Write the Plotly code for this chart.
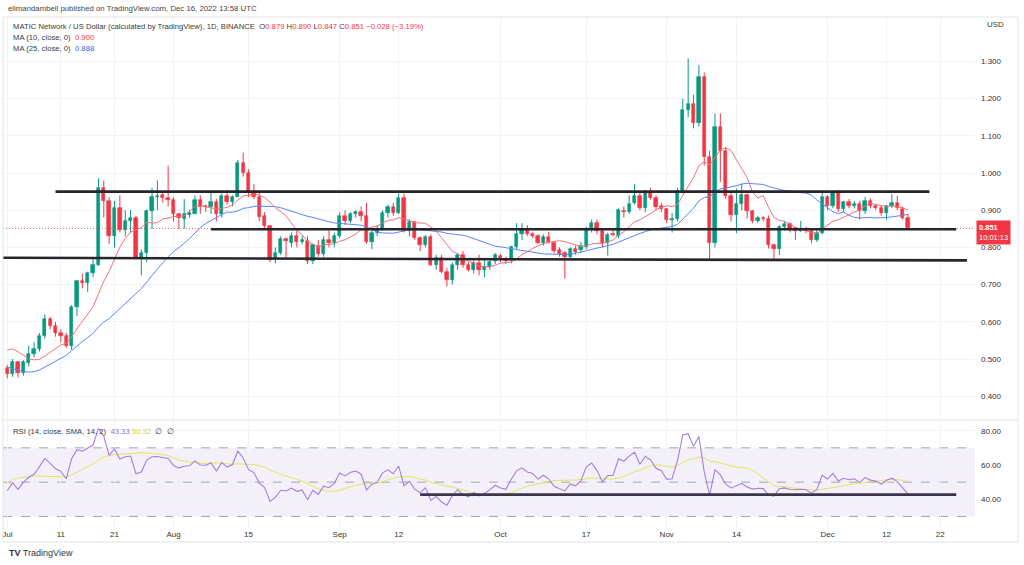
import pandas as pd
import numpy as np
import plotly.graph_objects as go

# ---------------- data ----------------
dates = pd.date_range("2022-07-01", "2022-12-16", freq="D")

opens = [0.477,0.461,0.491,0.463,0.490,0.513,0.526,0.562,0.607,0.590,
         0.571,0.562,0.535,0.641,0.709,0.703,0.730,0.753,0.959,0.926,
         0.832,0.906,0.848,0.872,0.879,0.771,0.786,0.899,0.935,0.940,
         0.934,0.927,0.891,0.877,0.888,0.891,0.927,0.911,0.908,0.922,
         0.890,0.939,0.921,0.936,1.028,1.001,0.951,0.936,0.884,0.858,
         0.769,0.786,0.822,0.811,0.832,0.814,0.818,0.764,0.804,0.782,
         0.820,0.812,0.832,0.884,0.871,0.890,0.896,0.884,0.815,0.840,
         0.848,0.893,0.908,0.893,0.932,0.845,0.867,0.826,0.806,0.829,
         0.753,0.771,0.735,0.712,0.753,0.780,0.753,0.739,0.757,0.739,
         0.748,0.764,0.777,0.768,0.766,0.800,0.836,0.850,0.836,0.831,
         0.813,0.827,0.813,0.793,0.784,0.775,0.795,0.793,0.800,0.850,
         0.865,0.845,0.811,0.836,0.831,0.898,0.896,0.920,0.938,0.905,
         0.948,0.934,0.910,0.902,0.874,0.876,0.952,1.169,1.185,1.135,
         1.257,1.044,0.813,1.123,1.060,0.939,0.887,0.917,0.940,0.897,
         0.872,0.879,0.877,0.806,0.795,0.855,0.862,0.851,0.845,0.849,
         0.845,0.820,0.840,0.935,0.910,0.950,0.902,0.921,0.912,0.918,
         0.898,0.925,0.912,0.907,0.893,0.910,0.920,0.904,0.879]
highs = [0.484,0.500,0.495,0.497,0.535,0.545,0.570,0.620,0.613,0.600,
         0.580,0.570,0.645,0.712,0.730,0.735,0.770,0.985,0.980,0.935,
         0.925,0.940,0.900,0.900,0.885,0.795,0.902,0.960,0.980,0.950,
         1.020,0.935,0.892,0.930,0.900,0.940,0.940,0.915,0.950,0.930,
         0.945,0.955,0.940,1.035,1.055,1.010,0.970,0.950,0.895,0.860,
         0.800,0.830,0.826,0.840,0.845,0.830,0.830,0.810,0.820,0.830,
         0.845,0.840,0.895,0.900,0.895,0.900,0.910,0.920,0.850,0.860,
         0.900,0.915,0.920,0.945,0.945,0.875,0.870,0.830,0.833,0.835,
         0.780,0.780,0.745,0.760,0.785,0.790,0.760,0.765,0.780,0.770,
         0.770,0.785,0.782,0.775,0.805,0.865,0.865,0.860,0.840,0.835,
         0.835,0.842,0.815,0.800,0.790,0.800,0.805,0.815,0.855,0.875,
         0.875,0.850,0.840,0.850,0.905,0.910,0.940,0.970,0.950,0.955,
         0.960,0.940,0.920,0.905,0.893,0.960,1.200,1.308,1.210,1.290,
         1.270,1.060,1.160,1.160,1.070,0.950,0.958,0.972,0.945,0.900,
         0.885,0.885,0.886,0.810,0.860,0.870,0.867,0.855,0.871,0.855,
         0.850,0.851,0.950,0.940,0.952,0.955,0.925,0.930,0.925,0.925,
         0.935,0.932,0.915,0.912,0.913,0.943,0.938,0.910,0.890]
lows = [0.448,0.452,0.450,0.455,0.480,0.505,0.520,0.555,0.580,0.560,
        0.545,0.530,0.525,0.615,0.690,0.680,0.720,0.750,0.880,0.810,
        0.800,0.840,0.830,0.840,0.768,0.725,0.760,0.850,0.900,0.920,
        0.910,0.870,0.850,0.850,0.880,0.890,0.890,0.895,0.890,0.870,
        0.880,0.915,0.910,0.935,0.990,0.935,0.930,0.870,0.850,0.760,
        0.757,0.780,0.770,0.800,0.800,0.808,0.755,0.755,0.775,0.775,
        0.800,0.800,0.825,0.860,0.865,0.880,0.870,0.810,0.795,0.830,
        0.845,0.880,0.885,0.890,0.840,0.830,0.820,0.790,0.800,0.750,
        0.740,0.730,0.695,0.700,0.740,0.745,0.735,0.730,0.725,0.720,
        0.740,0.755,0.760,0.755,0.757,0.795,0.820,0.830,0.825,0.810,
        0.805,0.810,0.785,0.775,0.717,0.770,0.780,0.785,0.795,0.840,
        0.835,0.800,0.778,0.830,0.825,0.880,0.890,0.915,0.900,0.895,
        0.928,0.900,0.895,0.865,0.840,0.870,0.945,1.150,1.120,1.125,
        1.020,0.766,0.800,0.976,0.930,0.870,0.838,0.900,0.878,0.865,
        0.865,0.870,0.797,0.766,0.780,0.845,0.840,0.820,0.842,0.838,
        0.811,0.815,0.835,0.900,0.905,0.895,0.895,0.905,0.905,0.875,
        0.890,0.905,0.900,0.885,0.874,0.905,0.900,0.875,0.847]
closes = [0.461,0.491,0.463,0.491,0.513,0.526,0.562,0.607,0.590,0.571,
          0.562,0.535,0.641,0.709,0.703,0.730,0.753,0.959,0.926,0.832,
          0.906,0.848,0.872,0.879,0.771,0.786,0.899,0.935,0.938,0.932,
          0.927,0.891,0.878,0.890,0.893,0.927,0.909,0.908,0.922,0.890,
          0.939,0.921,0.936,1.028,1.001,0.950,0.936,0.883,0.858,0.766,
          0.786,0.822,0.818,0.832,0.814,0.820,0.764,0.806,0.782,0.820,
          0.812,0.832,0.884,0.871,0.890,0.896,0.884,0.815,0.840,0.848,
          0.893,0.908,0.893,0.932,0.845,0.867,0.826,0.806,0.829,0.753,
          0.771,0.735,0.712,0.753,0.780,0.753,0.739,0.757,0.739,0.748,
          0.762,0.780,0.768,0.763,0.800,0.836,0.850,0.836,0.831,0.813,
          0.827,0.815,0.791,0.782,0.775,0.795,0.789,0.804,0.850,0.865,
          0.845,0.811,0.833,0.833,0.901,0.894,0.918,0.938,0.905,0.945,
          0.934,0.909,0.902,0.874,0.876,0.952,1.169,1.185,1.135,1.257,
          1.044,0.813,1.123,1.060,0.939,0.887,0.917,0.940,0.897,0.872,
          0.880,0.877,0.806,0.795,0.855,0.862,0.847,0.845,0.849,0.845,
          0.820,0.840,0.935,0.910,0.950,0.902,0.921,0.912,0.918,0.898,
          0.925,0.912,0.907,0.893,0.910,0.920,0.906,0.879,0.851]

# closes of the 30 days before the visible window (indicator warm-up only)
warmup_closes = [0.640,0.650,0.620,0.630,0.625,0.610,0.600,0.585,0.570,0.540,
                 0.500,0.450,0.410,0.400,0.390,0.340,0.345,0.320,0.380,0.420,
                 0.470,0.460,0.540,0.590,0.600,0.560,0.545,0.515,0.490,0.480]

# hand-drawn levels (start, end, price at start, price at end)
price_levels = [("2022-07-10", "2022-12-20", 0.950, 0.950),
                ("2022-08-08", "2022-12-25", 0.849, 0.849),
                ("2022-06-30", "2022-12-27", 0.772, 0.765)]
rsi_level = ("2022-09-16", "2022-12-25", 42.7)

price_ticks = [0.4, 0.5, 0.6, 0.7, 0.8, 0.9, 1.0, 1.1, 1.2, 1.3]
rsi_ticks = [40, 60, 80]
x_tick_dates = ["2022-07-01", "2022-07-11", "2022-07-21", "2022-08-01", "2022-08-15",
                "2022-09-01", "2022-09-12", "2022-10-01", "2022-10-17", "2022-11-01",
                "2022-11-14", "2022-12-01", "2022-12-12", "2022-12-22"]
x_tick_text = ["Jul", "11", "21", "Aug", "15", "Sep", "12", "Oct", "17", "Nov",
               "14", "Dec", "12", "22"]
rsi_legend_values = ("43.33", "50.32")

# ---------------- indicators ----------------
all_close = pd.Series(warmup_closes + closes, dtype=float)
n_w = len(warmup_closes)
ma10 = all_close.rolling(10).mean().iloc[n_w:].to_numpy()
ma25 = all_close.rolling(25).mean().iloc[n_w:].to_numpy()
delta = all_close.diff()
gain = delta.clip(lower=0)
loss = -delta.clip(upper=0)
avg_g = gain.ewm(alpha=1/14, adjust=False).mean()
avg_l = loss.ewm(alpha=1/14, adjust=False).mean()
rsi_all = 100 - 100 / (1 + avg_g / avg_l)
rsi_sma_all = rsi_all.rolling(14).mean()
rsi = rsi_all.iloc[n_w:].to_numpy()
rsi_sma = rsi_sma_all.iloc[n_w:].to_numpy()

# ---------------- geometry ----------------
W, H = 1024, 565
GREEN, RED = "#089981", "#f23645"
FONT = "Liberation Sans"
day = pd.Timedelta(days=1)
x_left = dates[0] - 0.8 * day
x_right = dates[0] + 180.5 * day

o = np.array(opens); c = np.array(closes); h = np.array(highs); l = np.array(lows)
up = c >= o
dn = ~up

fig = go.Figure()

def wick_xy(mask):
    xs, ys = [], []
    for d, lo, hi in zip(dates[mask], l[mask], h[mask]):
        xs += [d, d, None]
        ys += [lo, hi, None]
    return xs, ys

for mask, col in ((up, GREEN), (dn, RED)):
    wx, wy = wick_xy(mask)
    fig.add_trace(go.Scatter(x=wx, y=wy, mode="lines", line=dict(color=col, width=1),
                             xaxis="x", yaxis="y", hoverinfo="skip", showlegend=False))
    fig.add_trace(go.Bar(x=dates[mask], y=np.abs(c[mask] - o[mask]), base=np.minimum(o[mask], c[mask]),
                         width=0.62 * 86400000, marker=dict(color=col, line=dict(color=col, width=0.6)),
                         xaxis="x", yaxis="y", hoverinfo="skip", showlegend=False))

fig.add_trace(go.Scatter(x=dates, y=ma25, mode="lines", line=dict(color="#5b84f7", width=1),
                         xaxis="x", yaxis="y", hoverinfo="skip", showlegend=False))
fig.add_trace(go.Scatter(x=dates, y=ma10, mode="lines", line=dict(color="#f2707a", width=1),
                         xaxis="x", yaxis="y", hoverinfo="skip", showlegend=False))

fig.add_trace(go.Scatter(x=dates, y=rsi_sma, mode="lines", line=dict(color="#dfe85a", width=1),
                         xaxis="x2", yaxis="y2", hoverinfo="skip", showlegend=False))
fig.add_trace(go.Scatter(x=dates, y=rsi, mode="lines", line=dict(color="#a57ee0", width=1.1),
                         xaxis="x2", yaxis="y2", hoverinfo="skip", showlegend=False))

shapes = []
# RSI band and guide lines
shapes.append(dict(type="rect", xref="x2 domain", yref="y2", x0=0, x1=1, y0=30, y1=70,
                   fillcolor="rgba(126,87,194,0.09)", line=dict(width=0), layer="below"))
for lv in (70, 50, 30):
    shapes.append(dict(type="line", xref="x2 domain", yref="y2", x0=0, x1=1, y0=lv, y1=lv,
                       line=dict(color="#a4a6ae", width=1, dash="dash"), layer="below"))
# last price dotted line
shapes.append(dict(type="line", xref="x domain", yref="y", x0=0, x1=1, y0=closes[-1], y1=closes[-1],
                   line=dict(color="rgba(242,54,69,0.8)", width=1, dash="1px,2px")))
# drawn levels
for x0, x1, y0, y1 in price_levels:
    shapes.append(dict(type="line", xref="x", yref="y", x0=x0, x1=x1, y0=y0, y1=y1,
                       line=dict(color="#25252b", width=2.6)))
shapes.append(dict(type="line", xref="x2", yref="y2", x0=rsi_level[0], x1=rsi_level[1],
                   y0=rsi_level[2], y1=rsi_level[2], line=dict(color="#3a3548", width=2.6)))
# frame and pane separator
def px(xp): return xp / W
def py(yp): return 1 - yp / H
shapes.append(dict(type="rect", xref="paper", yref="paper", x0=px(3), x1=px(1018), y0=py(542), y1=py(17),
                   line=dict(color="#e0e3eb", width=1), fillcolor="rgba(0,0,0,0)"))
shapes.append(dict(type="line", xref="paper", yref="paper", x0=px(3), x1=px(1018), y0=py(420), y1=py(420),
                   line=dict(color="#e0e3eb", width=1)))

ann = []
def text(xp, yp, s, size=8, color="#3b3b3b", anchor="left"):
    ann.append(dict(xref="paper", yref="paper", x=px(xp), y=py(yp), text=s, showarrow=False,
                    xanchor=anchor, yanchor="middle", font=dict(family=FONT, size=size, color=color)))

text(6, 8, "elimandambell published on TradingView.com, Dec 16, 2022 13:58 UTC", 7.8, "#444")
chg = closes[-1] - closes[-2]
pct = chg / closes[-2] * 100
r = lambda v: f"<span style='color:{RED}'>{v}</span>"
text(11, 26, "MATIC Network / US Dollar (calculated by TradingView), 1D, BINANCE  "
     f"O{r(f'{opens[-1]:.3f}')} H{r(f'{highs[-1]:.3f}')} L{r(f'{lows[-1]:.3f}')} "
     f"C{r(f'{closes[-1]:.3f}')} {r(f'{chg:+.3f}'.replace('-', '−'))} {r(f'({pct:+.2f}%)'.replace('-', '−'))}", 7.7)
text(11, 37, f"MA (10, close, 0)  <span style='color:{RED}'>{ma10[-1]:.3f}</span>", 7.7)
text(11, 48, f"MA (25, close, 0)  <span style='color:#2962ff'>{ma25[-1]:.3f}</span>", 7.7)
text(11, 431, f"RSI (14, close, SMA, 14, 2)  <span style='color:#9c6ade'>{rsi_legend_values[0]}</span> "
     f"<span style='color:#cfd93a'>{rsi_legend_values[1]}</span>  ∅  ∅", 7.7)
text(985, 25, "USD", 8)
text(7, 553, "<b>TV</b> TradingView", 9, "#333")

# last price label
ann.append(dict(xref="paper", yref="y", x=px(976), y=closes[-1], yshift=-4, xanchor="left", yanchor="middle",
                text=f"<b>{closes[-1]:.3f}</b><br>10:01:13", showarrow=False, align="left",
                bgcolor=RED, borderpad=2, font=dict(family=FONT, size=7.5, color="white")))

grid = "#f0f3fa"
fig.update_layout(
    width=W, height=H, margin=dict(l=0, r=0, t=0, b=0),
    paper_bgcolor="white", plot_bgcolor="white", barmode="overlay", bargap=0,
    showlegend=False, shapes=shapes, annotations=ann,
    font=dict(family=FONT, size=8, color="#333"),
    xaxis=dict(domain=[px(3), px(975)], anchor="y", type="date", range=[x_left, x_right],
               tickvals=x_tick_dates, showticklabels=False, showgrid=True, gridcolor=grid,
               zeroline=False, showline=False, fixedrange=True),
    yaxis=dict(domain=[py(419), py(17)], anchor="x", side="right", range=[0.3387, 1.4194],
               tickvals=price_ticks, ticktext=[f"{v:.3f}" for v in price_ticks],
               showgrid=True, gridcolor=grid, zeroline=False, ticks="", ticklabelstandoff=5,
               tickfont=dict(family=FONT, size=8, color="#333")),
    xaxis2=dict(domain=[px(3), px(975)], anchor="y2", type="date", range=[x_left, x_right],
                matches="x", tickvals=x_tick_dates, ticktext=x_tick_text, showgrid=True, gridcolor=grid,
                zeroline=False, showline=False, ticks="", ticklabeloverflow="allow",
                tickfont=dict(family=FONT, size=8, color="#333")),
    yaxis2=dict(domain=[py(528), py(421)], anchor="x2", side="right", range=[23.27, 85.65],
                tickvals=rsi_ticks, ticktext=[f"{v:.2f}" for v in rsi_ticks],
                showgrid=True, gridcolor=grid, zeroline=False, ticks="", ticklabelstandoff=5,
                tickfont=dict(family=FONT, size=8, color="#333")),
)

fig.write_html("out.html", config={"displayModeBar": False})
